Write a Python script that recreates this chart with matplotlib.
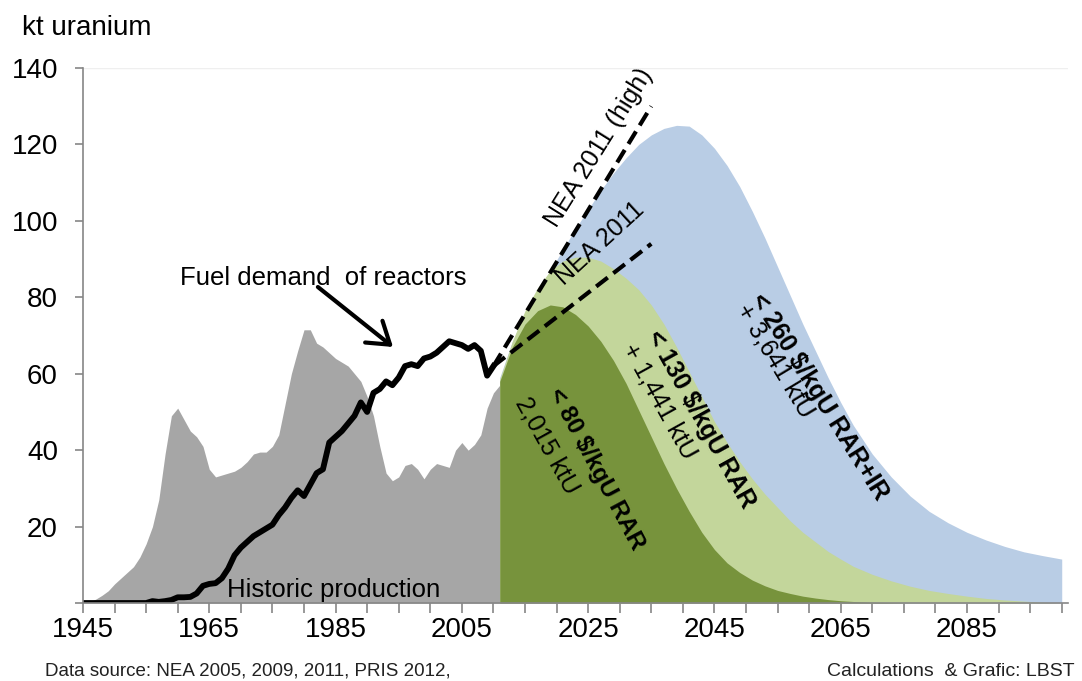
import matplotlib
matplotlib.use("Agg")
import matplotlib.pyplot as plt

plt.rcParams['font.family'] = ['Liberation Sans', 'DejaVu Sans']

# historic production (grey area), kt uranium
hist_years = [1945, 1946, 1947, 1948, 1949, 1950, 1951, 1952, 1953, 1954, 1955, 1956, 1957, 1958,
              1959, 1960, 1961, 1962, 1963, 1964, 1965, 1966, 1967, 1968, 1969, 1970, 1971, 1972,
              1973, 1974, 1975, 1976, 1977, 1978, 1979, 1980, 1981, 1982, 1983, 1984, 1985, 1986,
              1987, 1988, 1989, 1990, 1991, 1992, 1993, 1994, 1995, 1996, 1997, 1998, 1999, 2000,
              2001, 2002, 2003, 2004, 2005, 2006, 2007, 2008, 2009, 2010, 2011]
hist_prod = [0, 0.3, 1, 2, 3.2, 5, 6.5, 8, 9.5, 12, 15.5, 20, 27, 39,
             49, 51, 48, 45, 43.5, 41, 35, 33, 33.5, 34, 34.5, 35.5, 37, 39,
             39.5, 39.5, 41, 44, 52, 60, 66, 71.5, 71.5, 68, 67, 65.5, 64, 63,
             62, 60, 58, 54, 49, 41, 34, 32, 33, 36, 36.5, 35, 32.5, 35,
             36.5, 36, 35.5, 40, 42, 40, 41.5, 44, 51, 55, 57]

# fuel demand of reactors (black line)
demand_years = [1945, 1950, 1955, 1956, 1957, 1958, 1959, 1960, 1961, 1962, 1963, 1964, 1965, 1966,
                1967, 1968, 1969, 1970, 1971, 1972, 1973, 1974, 1975, 1976, 1977, 1978, 1979, 1980,
                1981, 1982, 1983, 1984, 1985, 1986, 1987, 1988, 1989, 1990, 1991, 1992, 1993, 1994,
                1995, 1996, 1997, 1998, 1999, 2000, 2001, 2002, 2003, 2004, 2005, 2006, 2007, 2008,
                2009, 2010]
demand = [0, 0, 0, 0.5, 0.3, 0.5, 0.8, 1.5, 1.5, 1.6, 2.5, 4.5, 5, 5.2,
          6.5, 9, 12.5, 14.5, 16, 17.5, 18.5, 19.5, 20.5, 23, 25, 27.5, 29.5, 28,
          31, 34, 35, 42, 43.5, 45, 47, 49, 52.5, 50, 55, 56, 58, 57,
          59, 62, 62.5, 62, 64, 64.5, 65.5, 67, 68.5, 68, 67.5, 66.5, 67.5, 66,
          59.5, 62]

# NEA 2011 demand scenarios (dashed)
nea_years = [2010, 2035]
nea_high = [62, 130]
nea_ref = [62, 94]

# resource depletion curves (cumulative cost classes)
proj_years = [2011, 2013, 2015, 2017, 2019, 2021, 2023, 2025, 2027, 2029, 2031, 2033, 2035, 2037,
              2039, 2041, 2043, 2045, 2047, 2049, 2051, 2053, 2055, 2057, 2059, 2061, 2063, 2065,
              2067, 2070, 2073, 2076, 2079, 2082, 2085, 2088, 2091, 2094, 2097, 2100]
rar80 = [58, 67, 73, 76.5, 78, 77.5, 75.5, 72.5, 68.5, 63.5, 57.5, 50.5, 43.5, 36.5,
         30, 24, 18.5, 14, 10.5, 8, 6, 4.5, 3.3, 2.5, 1.8, 1.3, 0.9, 0.6,
         0.4, 0.2, 0.1, 0, 0, 0, 0, 0, 0, 0, 0, 0]
rar130 = [58.5, 68.5, 76.5, 82.5, 87, 89.5, 90.5, 90.5, 89.5, 87.5, 85, 82, 78, 73,
          67, 60.5, 54, 47.5, 42, 37, 32.5, 28.5, 25, 21.5, 18.5, 16, 13.5, 11.5,
          9.6, 7.5, 5.8, 4.4, 3.3, 2.5, 1.8, 1.2, 0.8, 0.5, 0.2, 0]
rar_ir260 = [59, 68.5, 75.5, 81.5, 87, 92.5, 98, 103, 108, 112.5, 116.5, 120, 122.5, 124.2,
             125, 124.8, 122.5, 119, 114.5, 109, 102.5, 95.5, 88, 80.5, 73, 66, 59, 52.5,
             46.5, 39, 33, 28, 24, 21, 18.5, 16.5, 14.8, 13.4, 12.4, 11.5]

fig = plt.figure(figsize=(10.82, 6.81), dpi=100)
ax = fig.add_axes([0.0767, 0.1145, 0.9104, 0.7856])

ax.fill_between(hist_years, 0, hist_prod, color='#a6a6a6', lw=0, zorder=1)
ax.fill_between(proj_years, 0, rar_ir260, color='#b9cde5', lw=0, zorder=2)
ax.fill_between(proj_years, 0, rar130, color='#c3d69b', lw=0, zorder=3)
ax.fill_between(proj_years, 0, rar80, color='#77933c', lw=0, zorder=4)

ax.plot(demand_years, demand, color='black', lw=4.2, solid_joinstyle='round', zorder=6)
ax.plot(nea_years, nea_high, color='black', lw=3, dashes=(3.5, 1.7), zorder=6)
ax.plot(nea_years, nea_ref, color='black', lw=3, dashes=(3.5, 1.7), zorder=6)

ax.axhline(140, color='#efefef', lw=1, zorder=0)

ax.set_xlim(1945, 2101)
ax.set_ylim(0, 140)

ax.set_xticks(range(1945, 2086, 20))
ax.set_xticks(range(1945, 2101, 5), minor=True)
ax.set_yticks(range(0, 141, 20))
ax.set_yticklabels([''] + [str(v) for v in range(20, 141, 20)])
ax.tick_params(axis='x', which='both', direction='out', length=7, width=1.2, color='#868686',
               labelsize=20, pad=3)
ax.tick_params(axis='y', direction='out', length=6, width=1.2, color='#868686',
               labelsize=20, pad=12)
for s in ['top', 'right']:
    ax.spines[s].set_visible(False)
for s in ['left', 'bottom']:
    ax.spines[s].set_color('#868686')
    ax.spines[s].set_linewidth(1.2)
    ax.spines[s].set_zorder(7)

# texts
fig.text(22 / 1082, 1 - 35 / 681, 'kt uranium', fontsize=20, ha='left', va='baseline')
fig.text(45 / 1082, 5 / 681, 'Data source: NEA 2005, 2009, 2011, PRIS 2012,', fontsize=13.5,
         ha='left', va='baseline', color='#222222')
fig.text(1075 / 1082, 5 / 681, 'Calculations  & Grafic: LBST', fontsize=14,
         ha='right', va='baseline', color='#222222')

ax.text(1967.8, 1.6, 'Historic production', fontsize=18.5, ha='left', va='baseline', zorder=8)
ax.text(1960.4, 83.2, 'Fuel demand  of reactors', fontsize=18.5, ha='left', va='baseline', zorder=8)
ax.annotate('', xy=(1994.1, 67.0), xytext=(1982.2, 82.7),
            arrowprops=dict(arrowstyle='->,head_length=0.75,head_width=0.5', lw=3, color='black',
                            mutation_scale=20, shrinkA=0, shrinkB=0), zorder=8)

ax.text(2026.7, 119.3, 'NEA 2011 (high)', fontsize=18, rotation=58, ha='center', va='center',
        rotation_mode='anchor', zorder=8)
ax.text(2026.9, 94.2, 'NEA 2011', fontsize=18, rotation=42.5, ha='center', va='center',
        rotation_mode='anchor', zorder=8)

ax.text(2026.3, 35.0, '< 80 $/kgU RAR', fontsize=17.5, fontweight='bold', rotation=-62,
        ha='center', va='center', rotation_mode='anchor', zorder=8)
ax.text(2018.5, 41.3, '2,015 ktU', fontsize=18, rotation=-61,
        ha='center', va='center', rotation_mode='anchor', zorder=8)
ax.text(2042.8, 48.0, '< 130 $/kgU RAR', fontsize=18, fontweight='bold', rotation=-61,
        ha='center', va='center', rotation_mode='anchor', zorder=8)
ax.text(2036.2, 52.9, '+ 1,441 ktU', fontsize=18, rotation=-61,
        ha='center', va='center', rotation_mode='anchor', zorder=8)
ax.text(2061.7, 54.0, '< 260 $/kgU RAR+IR', fontsize=18, fontweight='bold', rotation=-58,
        ha='center', va='center', rotation_mode='anchor', zorder=8)
ax.text(2054.6, 63.5, '+ 3,641 ktU', fontsize=18, rotation=-59,
        ha='center', va='center', rotation_mode='anchor', zorder=8)

fig.savefig('out.png', dpi=100)
